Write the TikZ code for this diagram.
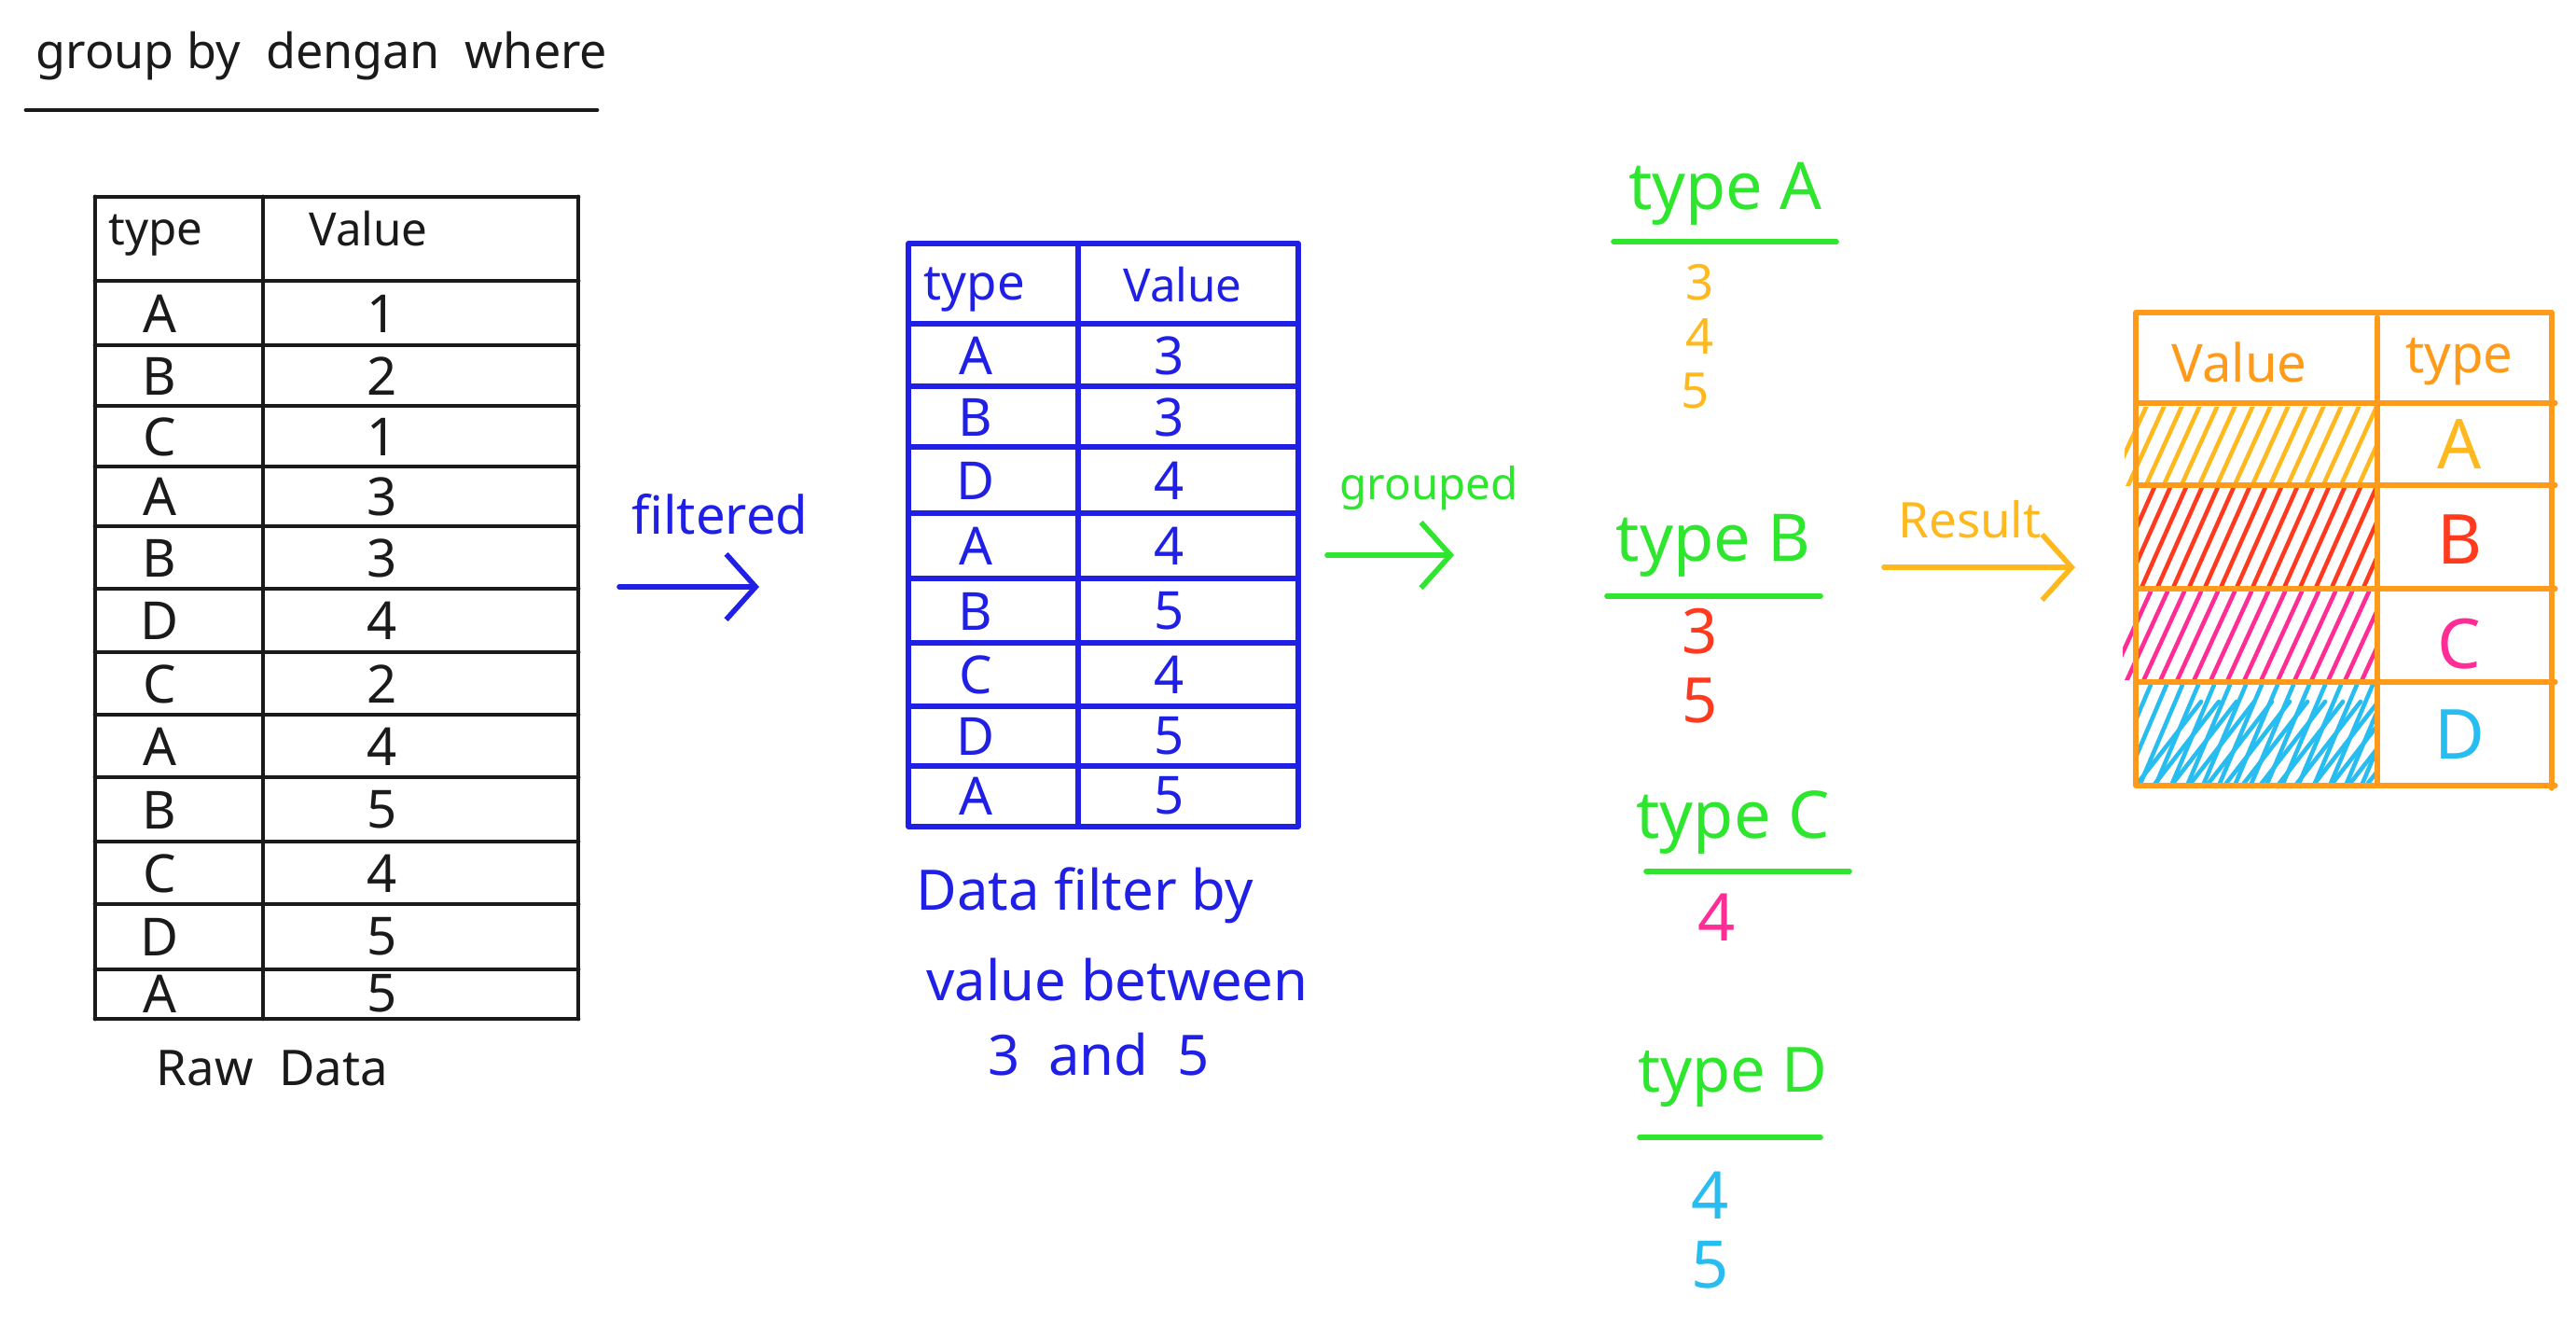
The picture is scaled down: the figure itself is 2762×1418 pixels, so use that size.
\documentclass[tikz,border=0pt]{standalone}
\usepackage{fontspec}
\setmainfont{Noto Sans}
\usetikzlibrary{arrows.meta}
\definecolor{ink}{HTML}{1A1A1A}
\definecolor{pblue}{HTML}{1F1FE6}
\definecolor{pgreen}{HTML}{2EE62E}
\definecolor{porange}{HTML}{FF9A1A}
\definecolor{pyellow}{HTML}{FFB81E}
\definecolor{pred}{HTML}{FF3A1E}
\definecolor{ppink}{HTML}{FF2D95}
\definecolor{pcyan}{HTML}{28BDF0}
\tikzset{
  txt/.style={inner sep=0pt, anchor=center},
  rawline/.style={ink, line width=1.4pt, line cap=round},
  blueline/.style={pblue, line width=1.5pt, line cap=round},
  orline/.style={porange, line width=1.5pt, line cap=round},
  grline/.style={pgreen, line width=1.6pt, line cap=round},
  harrow/.style={line width=1.6pt, line cap=round, -{Straight Barb[length=9pt,width=20pt]}},
  hatch/.style={line width=1.3pt, line cap=round}
}
\begin{document}
\begin{tikzpicture}[x=0.01cm,y=-0.01cm]
\useasboundingbox[fill=white] (0,0) rectangle (2762,1418);

% ---------- title ----------
\node[txt, font=\fontsize{14.8}{17}\selectfont, text=ink] (title) at (345,60) {group by \ dengan \ where};
\coordinate (tu1) at (28,118);
\coordinate (tu2) at (640,118);
\draw[rawline] (tu1) -- (tu2);

% ---------- raw table ----------
\draw[rawline] (102,211) -- (620,211);
\foreach \yy in {301,370,435,500,564,631,699,766,833,902,969,1039,1092}
  \draw[rawline] (102,\yy) -- (620,\yy);
\draw[rawline] (102,211) -- (102,1092);
\draw[rawline] (282,211) -- (282,1092);
\draw[rawline] (620,211) -- (620,1092);
\node[txt, font=\fontsize{14}{16}\selectfont, text=ink] (rht) at (167,252) {type};
\node[txt, font=\fontsize{14}{16}\selectfont, text=ink] (rhv) at (395,245) {Value};
\foreach \t/\v/\yc [count=\i] in {A/1/336,B/2/403,C/1/468,A/3/532,B/3/598,D/4/665,C/2/733,A/4/800,B/5/868,C/4/936,D/5/1004,A/5/1065}{
  \node[txt, font=\fontsize{16}{18}\selectfont, text=ink] (rt\i) at (171,\yc) {\t};
  \node[txt, font=\fontsize{16}{18}\selectfont, text=ink] (rv\i) at (410,\yc) {\v};
}
\node[txt, font=\fontsize{15}{17}\selectfont, text=ink] (rawlbl) at (292,1145) {Raw \ Data};

% ---------- filtered arrow ----------
\node[txt, font=\fontsize{16}{18}\selectfont, text=pblue] (filt) at (772,551) {filtered};
\coordinate (fa1) at (664,629);
\coordinate (fa2) at (814,629);
\draw[harrow, pblue] (fa1) -- (fa2);

% ---------- filtered table ----------
\draw[blueline] (974,261) -- (1392,261);
\foreach \yy in {347,414,479,550,620,689,757,821,886}
  \draw[blueline] (974,\yy) -- (1392,\yy);
\draw[blueline] (974,261) -- (974,886);
\draw[blueline] (1156,261) -- (1156,886);
\draw[blueline] (1392,261) -- (1392,886);
\node[txt, font=\fontsize{15}{17}\selectfont, text=pblue] (fht) at (1045,310) {type};
\node[txt, font=\fontsize{14}{16}\selectfont, text=pblue] (fhv) at (1268,305) {Value};
\foreach \t/\v/\yc [count=\i] in {A/3/381,B/3/447,D/4/515,A/4/585,B/5/655,C/4/723,D/5/789,A/5/853}{
  \node[txt, font=\fontsize{16}{18}\selectfont, text=pblue] (ft\i) at (1046,\yc) {\t};
  \node[txt, font=\fontsize{16}{18}\selectfont, text=pblue] (fv\i) at (1254,\yc) {\v};
}
\node[txt, font=\fontsize{17}{19}\selectfont, text=pblue] (fc1) at (1163,960) {Data filter by};
\node[txt, font=\fontsize{17}{19}\selectfont, text=pblue] (fc2) at (1198,1050) {value between};
\node[txt, font=\fontsize{17}{19}\selectfont, text=pblue] (fc3) at (1178,1130) {3 \ and \ 5};

% ---------- grouped arrow ----------
\node[txt, font=\fontsize{13.5}{16}\selectfont, text=pgreen] (grp) at (1532,523) {grouped};
\coordinate (ga1) at (1423,595);
\coordinate (ga2) at (1559,595);
\draw[harrow, pgreen] (ga1) -- (ga2);

% ---------- groups ----------
\node[txt, font=\fontsize{20}{22}\selectfont, text=pgreen] (gA) at (1850,208) {type A};
\draw[grline] (1730,259) -- (1969,259);
\node[txt, font=\fontsize{15}{17}\selectfont, text=pyellow] (gA1) at (1823,303) {3};
\node[txt, font=\fontsize{15}{17}\selectfont, text=pyellow] (gA2) at (1823,361) {4};
\node[txt, font=\fontsize{15}{17}\selectfont, text=pyellow] (gA3) at (1818,419) {5};

\node[txt, font=\fontsize{20}{22}\selectfont, text=pgreen] (gB) at (1837,585) {type B};
\draw[grline] (1723,639) -- (1952,639);
\node[txt, font=\fontsize{19}{21}\selectfont, text=pred] (gB1) at (1823,677) {3};
\node[txt, font=\fontsize{19}{21}\selectfont, text=pred] (gB2) at (1823,751) {5};

\node[txt, font=\fontsize{20}{22}\selectfont, text=pgreen] (gC) at (1858,881) {type C};
\draw[grline] (1765,934) -- (1983,934);
\node[txt, font=\fontsize{20}{22}\selectfont, text=ppink] (gC1) at (1841,983) {4};

\node[txt, font=\fontsize{19}{21}\selectfont, text=pgreen] (gD) at (1858,1155) {type D};
\draw[grline] (1758,1219) -- (1952,1219);
\node[txt, font=\fontsize{20}{22}\selectfont, text=pcyan] (gD1) at (1834,1281) {4};
\node[txt, font=\fontsize{20}{22}\selectfont, text=pcyan] (gD2) at (1834,1356) {5};

% ---------- result arrow ----------
\node[txt, font=\fontsize{15}{17}\selectfont, text=pyellow] (res) at (2112,557) {Result};
\coordinate (ra1) at (2020,608);
\coordinate (ra2) at (2225,608);
\draw[harrow, pyellow] (ra1) -- (ra2);

% ---------- result table: hatching ----------
\begin{scope}
  \clip (2278,436) rectangle (2549,520);
  \foreach \k in {0,...,15} \draw[hatch, pyellow] (2262+\k*19,522) -- ++(40,-88);
\end{scope}
\begin{scope}
  \clip (2288,520) rectangle (2549,628);
  \foreach \k in {0,...,17} \draw[hatch, pred] (2262+\k*17,630) -- ++(48,-108);
\end{scope}
\begin{scope}
  \clip (2276,634) rectangle (2549,728);
  \foreach \k in {0,...,16} \draw[hatch, ppink] (2262+\k*18,730) -- ++(44,-96);
\end{scope}
\begin{scope}
  \clip (2290,734) rectangle (2549,840);
  \foreach \k in {0,...,17} \draw[hatch, pcyan] (2260+\k*17,842) -- ++(46,-108);
  \foreach \k in {0,...,14} \draw[hatch, pcyan] (2290+\k*19,842) -- ++(70,-90);
\end{scope}

% ---------- result table: grid ----------
\draw[orline] (2290,335) -- (2736,335);
\foreach \yy in {432,520,631,731,842}
  \draw[orline] (2290,\yy) -- (2740,\yy);
\draw[orline] (2290,335) -- (2290,842);
\draw[orline] (2549,340) -- (2549,842);
\draw[orline] (2736,335) -- (2736,845);
\node[txt, font=\fontsize{16}{18}\selectfont, text=porange] (rhv2) at (2401,388) {Value};
\node[txt, font=\fontsize{16}{18}\selectfont, text=porange] (rht2) at (2637,388) {type};
\node[txt, font=\fontsize{21}{23}\selectfont, text=pyellow] (oA) at (2637,476) {A};
\node[txt, font=\fontsize{21}{23}\selectfont, text=pred] (oB) at (2637,578) {B};
\node[txt, font=\fontsize{21}{23}\selectfont, text=ppink] (oC) at (2637,690) {C};
\node[txt, font=\fontsize{21}{23}\selectfont, text=pcyan] (oD) at (2637,787) {D};
\end{tikzpicture}
\end{document}
